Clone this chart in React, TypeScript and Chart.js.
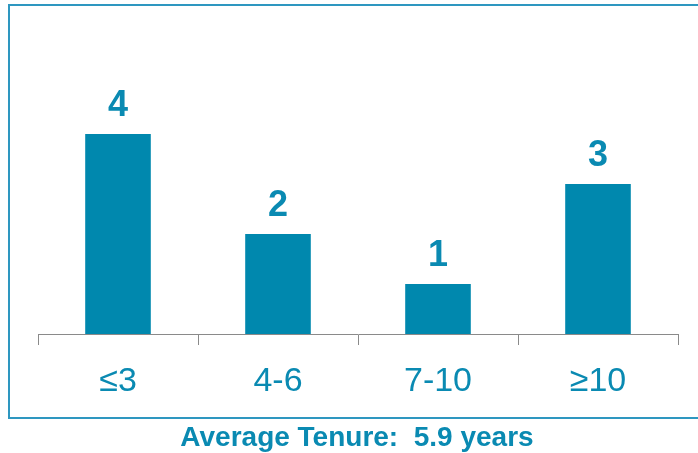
import React, { useEffect, useRef } from "react";
import { Chart, registerables } from "chart.js";

Chart.register(...registerables);

const categories = ["≤3", "4-6", "7-10", "≥10"];
const counts = [4, 2, 1, 3];
const footerText = "Average Tenure:  5.9 years";

const BAR = "#0088AE";
const TEXT = "#0A8AB2";

const valueLabels = {
  id: "valueLabels",
  afterDatasetsDraw(chart: any) {
    const ctx = chart.ctx;
    const meta = chart.getDatasetMeta(0);
    ctx.save();
    ctx.fillStyle = TEXT;
    ctx.font = "bold 36px 'Liberation Sans', Arial, sans-serif";
    ctx.textAlign = "center";
    ctx.textBaseline = "alphabetic";
    meta.data.forEach((el: any, i: number) => {
      ctx.fillText(String(counts[i]), el.x, el.y - 18);
    });
    ctx.restore();
  },
};

export default function App() {
  const ref = useRef<HTMLCanvasElement>(null);
  useEffect(() => {
    const chart = new Chart(ref.current!, {
      type: "bar",
      data: {
        labels: categories,
        datasets: [
          {
            data: counts,
            backgroundColor: BAR,
            borderWidth: 0,
            categoryPercentage: 1,
            barPercentage: 0.41,
          },
        ],
      },
      options: {
        animation: false,
        responsive: false,
        layout: { padding: { left: 38, right: 20, top: 34, bottom: 0 } },
        plugins: { legend: { display: false }, tooltip: { enabled: false } },
        scales: {
          y: { display: false, min: 0, max: 6 },
          x: {
            afterFit(scale: any) {
              scale.height = 119;
            },
            grid: {
              display: true,
              drawOnChartArea: false,
              drawTicks: true,
              tickLength: 11,
              color: "#8a8a8a",
              lineWidth: 1,
              offset: true,
            },
            border: { display: true, color: "#8a8a8a", width: 1 },
            ticks: {
              color: TEXT,
              padding: 16,
              font: { family: "'Liberation Sans', Arial, sans-serif", size: 34 },
            },
          },
        },
      },
      plugins: [valueLabels],
    });
    return () => chart.destroy();
  }, []);

  return (
    <div style={{ position: "absolute", left: 0, top: 0, width: 698, height: 453, overflow: "hidden", background: "#fff" }}>
      <div
        style={{
          position: "absolute",
          left: 8,
          top: 4,
          width: 720,
          height: 411,
          border: "2px solid #2E97C0",
        }}
      />
      <canvas ref={ref} width={698} height={453} style={{ position: "absolute", left: 0, top: 0 }} />
      <div
        style={{
          position: "absolute",
          left: 0,
          top: 422,
          width: 714,
          textAlign: "center",
          fontFamily: "'Liberation Sans', Arial, sans-serif",
          fontWeight: "bold",
          fontSize: 28,
          color: TEXT,
          whiteSpace: "pre",
          lineHeight: "30px",
        }}
      >
        {footerText}
      </div>
    </div>
  );
}
